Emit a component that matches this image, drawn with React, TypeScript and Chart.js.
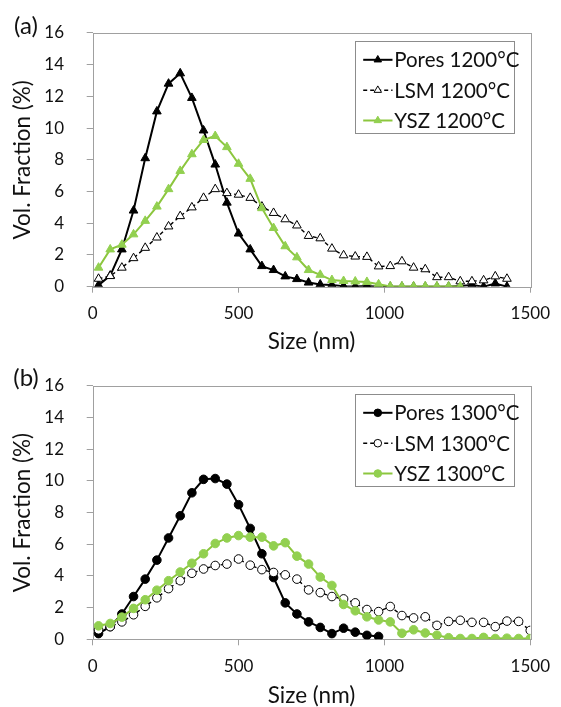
import React, { useEffect, useRef } from "react";
import { Chart, registerables } from "chart.js";
Chart.register(...registerables);

// ---- data ----
const sizesNm = [20, 60, 100, 140, 180, 220, 260, 300, 340, 380, 420, 460, 500, 540, 580, 620, 660, 700, 740, 780, 820, 860, 900, 940, 980, 1020, 1060, 1100, 1140, 1180, 1220, 1260, 1300, 1340, 1380, 1420, 1460, 1500];

const pores1200 = [0.1, 0.7, 2.35, 4.8, 8.1, 11.05, 12.8, 13.45, 11.9, 9.85, 7.7, 5.3, 3.35, 2.35, 1.3, 1.05, 0.65, 0.48, 0.26, 0.14, 0.1, 0.03, 0.02, 0.05, 0.0, 0.0, 0.0, 0.0, 0.0, 0.0, 0.0, 0.05, 0.1, 0.0, 0.2, 0.0];
const lsm1200 = [0.5, 0.67, 1.2, 1.8, 2.45, 3.1, 3.8, 4.45, 5.0, 5.6, 6.15, 5.9, 5.8, 5.6, 5.05, 4.65, 4.25, 3.86, 3.2, 3.05, 2.4, 1.98, 1.9, 1.88, 1.28, 1.3, 1.6, 1.2, 1.1, 0.6, 0.6, 0.34, 0.34, 0.4, 0.65, 0.5];
const ysz1200 = [1.2, 2.35, 2.65, 3.3, 4.15, 5.05, 6.15, 7.3, 8.35, 9.25, 9.5, 8.8, 7.75, 6.8, 4.95, 3.7, 2.55, 1.85, 1.05, 0.75, 0.42, 0.36, 0.33, 0.3, 0.15, 0.02, 0.02, 0.02, 0.02, 0.02, 0.02, 0.02];

const pores1300 = [0.36, 0.8, 1.6, 2.7, 3.8, 5.0, 6.4, 7.8, 9.25, 10.1, 10.15, 9.8, 8.5, 7.0, 5.4, 3.9, 2.3, 1.6, 1.1, 0.75, 0.36, 0.7, 0.45, 0.25, 0.18];
const lsm1300 = [0.6, 0.8, 1.1, 1.55, 2.08, 2.62, 3.2, 3.7, 4.17, 4.44, 4.66, 4.75, 5.07, 4.68, 4.4, 4.22, 4.07, 3.8, 3.12, 2.95, 2.7, 2.55, 2.3, 1.88, 1.75, 2.07, 1.5, 1.35, 1.42, 0.88, 1.13, 1.2, 1.07, 1.07, 0.8, 1.15, 1.13, 0.56];
const ysz1300 = [0.85, 1.0, 1.4, 1.95, 2.5, 3.1, 3.7, 4.25, 4.8, 5.4, 6.05, 6.4, 6.55, 6.45, 6.45, 5.9, 6.1, 5.25, 4.75, 3.93, 3.4, 2.2, 1.8, 1.42, 1.22, 1.1, 0.38, 0.6, 0.4, 0.26, 0.1, 0.05, 0.05, 0.12, 0.05, 0.07, 0.05, 0.05];

const xTickValues = [0, 500, 1000, 1500];
const yTickValues = [0, 2, 4, 6, 8, 10, 12, 14, 16];

const labelsA = ["Pores 1200°C", "LSM 1200°C", "YSZ 1200°C"];
const labelsB = ["Pores 1300°C", "LSM 1300°C", "YSZ 1300°C"];

// ---- styles ----
const FONT = "Lato";
const GREEN_LINE = "#8cc63e";
const GREEN_MARK = "#92d050";
const AXIS_GRAY = "#a0a0a0";
const TEXT = "#111111";

function pts(vals: number[]) {
  return vals.map((v, i) => ({ x: sizesNm[i], y: v }));
}

function drawMarker(ctx: CanvasRenderingContext2D, style: string, x: number, y: number, r: number, fill: string, stroke: string) {
  ctx.beginPath();
  if (style === "triangle") {
    let rad = 0;
    for (let k = 0; k < 3; k++) {
      const px = x + Math.sin(rad) * r;
      const py = y - Math.cos(rad) * r;
      if (k === 0) ctx.moveTo(px, py);
      else ctx.lineTo(px, py);
      rad += (2 * Math.PI) / 3;
    }
    ctx.closePath();
  } else {
    ctx.arc(x, y, r, 0, Math.PI * 2);
  }
  ctx.fillStyle = fill;
  ctx.fill();
  ctx.setLineDash([]);
  ctx.lineWidth = 1;
  ctx.strokeStyle = stroke;
  ctx.stroke();
}

const framePlugin = {
  id: "frameBox",
  beforeDatasetsDraw(chart: any) {
    const { ctx, chartArea: a } = chart;
    ctx.save();
    ctx.strokeStyle = AXIS_GRAY;
    ctx.lineWidth = 1;
    ctx.strokeRect(Math.round(a.left) + 0.5, Math.round(a.top) + 0.5, Math.round(a.right - a.left), Math.round(a.bottom - a.top));
    ctx.restore();
  },
};

const boxLegendPlugin = {
  id: "boxLegend",
  afterDraw(chart: any) {
    const o = chart.options.plugins.boxLegend;
    if (!o) return;
    const { ctx, chartArea: a } = chart;
    const bx = Math.round(a.right - 175.7) + 0.5;
    const by = Math.round(a.top + 8.3) + 0.5;
    const bw = 159;
    const bh = 92;
    ctx.save();
    ctx.fillStyle = "#ffffff";
    ctx.fillRect(bx, by, bw, bh);
    ctx.strokeStyle = "#8c8c8c";
    ctx.lineWidth = 1;
    ctx.strokeRect(bx, by, bw, bh);
    const rows = [18.3, 48.7, 79];
    chart.data.datasets.forEach((ds: any, i: number) => {
      const y = by + rows[i];
      ctx.strokeStyle = ds.borderColor;
      ctx.lineWidth = ds.borderWidth;
      ctx.setLineDash(ds.borderDash || []);
      ctx.beginPath();
      ctx.moveTo(bx + 7.7, y);
      ctx.lineTo(bx + 37, y);
      ctx.stroke();
      ctx.setLineDash([]);
      drawMarker(ctx, ds.pointStyle, bx + 22.3, y, ds.pointStyle === "triangle" ? 4.3 : 3.8, ds.pointBackgroundColor, ds.pointBorderColor);
      ctx.fillStyle = TEXT;
      ctx.font = `20.5px ${FONT}`;
      ctx.textBaseline = "middle";
      ctx.textAlign = "left";
      ctx.fillText(ds.label, bx + 38.7, y + 1);
    });
    ctx.restore();
  },
};

const panelLabelPlugin = {
  id: "panelLabel",
  afterDraw(chart: any) {
    const o = chart.options.plugins.panelLabel;
    if (!o) return;
    const { ctx } = chart;
    ctx.save();
    ctx.fillStyle = TEXT;
    ctx.font = `24px ${FONT}`;
    ctx.textBaseline = "middle";
    ctx.textAlign = "center";
    ctx.fillText(o.text, 26, o.y);
    ctx.restore();
  },
};

type PanelProps = {
  top: number;
  height: number;
  padTop: number;
  xAxisHeight: number;
  label: string;
  labelY: number;
  marker: string;
  legend: string[];
  pores: number[];
  lsm: number[];
  ysz: number[];
  triR: number;
};

function Panel(p: PanelProps) {
  const ref = useRef<HTMLCanvasElement | null>(null);
  useEffect(() => {
    if (!ref.current) return;
    const r = p.triR;
    const chart = new Chart(ref.current, {
      type: "line",
      data: {
        datasets: [
          {
            label: p.legend[0],
            data: pts(p.pores),
            borderColor: "#000000",
            borderWidth: 2,
            pointStyle: p.marker,
            pointRadius: r,
            pointBackgroundColor: "#000000",
            pointBorderColor: "#000000",
            pointBorderWidth: 1,
            tension: 0,
            order: 3,
          },
          {
            label: p.legend[1],
            data: pts(p.lsm),
            borderColor: "#000000",
            borderWidth: 1.4,
            borderDash: [4, 3],
            pointStyle: p.marker,
            pointRadius: r,
            pointBackgroundColor: "#ffffff",
            pointBorderColor: "#000000",
            pointBorderWidth: 1,
            tension: 0,
            order: 2,
          },
          {
            label: p.legend[2],
            data: pts(p.ysz),
            borderColor: GREEN_LINE,
            borderWidth: 2,
            pointStyle: p.marker,
            pointRadius: r,
            pointBackgroundColor: GREEN_MARK,
            pointBorderColor: GREEN_MARK,
            pointBorderWidth: 1,
            tension: 0,
            order: 1,
          },
        ] as any,
      },
      options: {
        responsive: false,
        animation: false,
        layout: { padding: { left: 0, right: 23, top: p.padTop, bottom: 0 } },
        plugins: {
          legend: { display: false },
          tooltip: { enabled: false },
          boxLegend: {},
          panelLabel: { text: p.label, y: p.labelY },
        } as any,
        scales: {
          x: {
            type: "linear",
            min: 0,
            max: 1500,
            afterBuildTicks: (s: any) => {
              s.ticks = xTickValues.map((v) => ({ value: v }));
            },
            afterFit: (s: any) => {
              s.height = p.xAxisHeight;
            },
            grid: { display: true, drawOnChartArea: false, drawTicks: true, tickLength: 6, color: AXIS_GRAY },
            border: { display: false },
            ticks: {
              color: TEXT,
              font: { family: FONT, size: 17 },
              padding: 11,
              maxRotation: 0,
              callback: (v: any) => String(v),
            },
            title: {
              display: true,
              text: "Size (nm)",
              color: TEXT,
              font: { family: FONT, size: 22.5, lineHeight: 1 },
              padding: { top: 0, bottom: 0 },
            },
          },
          y: {
            type: "linear",
            min: 0,
            max: 16,
            afterBuildTicks: (s: any) => {
              s.ticks = yTickValues.map((v) => ({ value: v }));
            },
            afterFit: (s: any) => {
              s.width = 92.7;
            },
            grid: { display: true, drawOnChartArea: false, drawTicks: true, tickLength: 6, color: AXIS_GRAY },
            border: { display: false },
            ticks: { color: TEXT, font: { family: FONT, size: 17 }, padding: 22.7, callback: (v: any) => String(v) },
            title: {
              display: true,
              text: "Vol. Fraction (%)",
              color: TEXT,
              font: { family: FONT, size: 22.5, lineHeight: 1 },
              padding: { top: 11.5, bottom: 0 },
            },
          },
        },
      } as any,
      plugins: [framePlugin, boxLegendPlugin, panelLabelPlugin],
    });
    return () => chart.destroy();
  }, []);
  return (
    <canvas
      ref={ref}
      width={561}
      height={p.height}
      style={{ position: "absolute", left: 0, top: p.top, width: 561, height: p.height }}
    />
  );
}

export default function App() {
  return (
    <div style={{ position: "absolute", left: 0, top: 0, width: 561, height: 707, background: "#ffffff" }}>
      <Panel
        top={0}
        height={353}
        padTop={22.7}
        xAxisHeight={66.3}
        label="(a)"
        labelY={26}
        marker="triangle"
        legend={labelsA}
        pores={pores1200}
        lsm={lsm1200}
        ysz={ysz1200}
        triR={5}
      />
      <Panel
        top={353}
        height={354}
        padTop={21}
        xAxisHeight={67.7}
        label="(b)"
        labelY={25}
        marker="circle"
        legend={labelsB}
        pores={pores1300}
        lsm={lsm1300}
        ysz={ysz1300}
        triR={4.3}
      />
    </div>
  );
}
